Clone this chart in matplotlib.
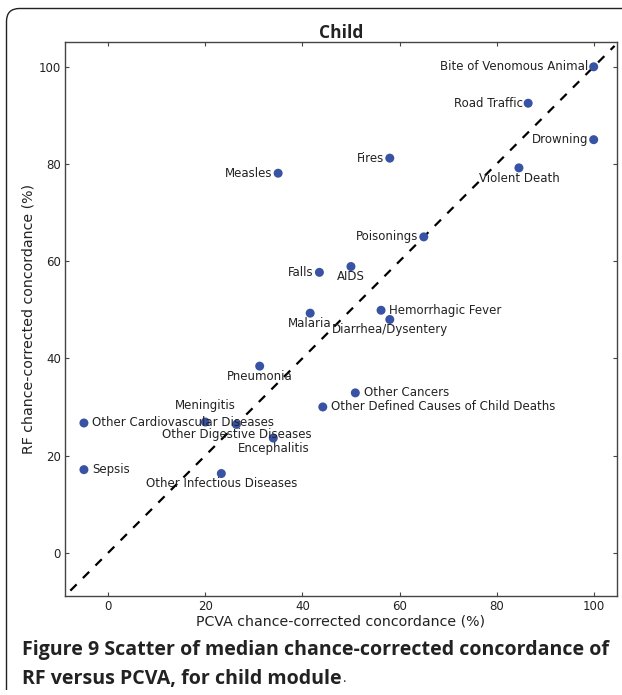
import matplotlib
matplotlib.use("Agg")
import matplotlib.pyplot as plt
from matplotlib.path import Path
from matplotlib.patches import PathPatch
from matplotlib.transforms import IdentityTransform

causes = ["Bite of Venomous Animal", "Road Traffic", "Drowning", "Fires", "Measles",
          "Violent Death", "Poisonings", "AIDS", "Falls", "Hemorrhagic Fever",
          "Malaria", "Diarrhea/Dysentery", "Pneumonia", "Other Cancers",
          "Other Defined Causes of Child Deaths", "Other Cardiovascular Diseases",
          "Meningitis", "Other Digestive Diseases", "Encephalitis", "Sepsis",
          "Other Infectious Diseases"]
pcva = [100, 86.5, 100, 58, 35, 84.6, 65, 50, 43.5, 56.2, 41.6, 58, 31.2, 50.9,
        44.2, -5, 20, 26.4, 34, -5, 23.3]
rf = [100, 92.5, 85.0, 81.2, 78.1, 79.2, 65, 58.9, 57.7, 49.9, 49.3, 48.0, 38.4,
      32.9, 30.0, 26.7, 26.9, 26.4, 23.6, 17.1, 16.3]
placement = ["left", "left", "left", "left", "left", "below", "left", "below", "left",
             "right", "below", "below", "below", "right", "right", "right", "above",
             "below", "below", "right", "below"]
ticks = [0, 20, 40, 60, 80, 100]

W, H = 622, 695
fig = plt.figure(figsize=(W / 100, H / 100), dpi=100)
ax = fig.add_axes([65 / W, 1 - 596 / H, (617 - 65) / W, (596 - 42) / H])

txtc = "#222222"
ax.plot([-7.8, 104.3], [-7.8, 104.3], color="black", ls=(0, (4, 4)), lw=1.6, zorder=1)
ax.scatter(pcva, rf, s=42, color="#3953a4", zorder=3, edgecolors="none")

offs = {"left": ((-4, 0), "right", "center"),
        "right": ((6, 0), "left", "center"),
        "below": ((0, -7.5), "center", "center"),
        "above": ((0, 12), "center", "center")}
for name, x, y, p in zip(causes, pcva, rf, placement):
    (dx, dy), ha, va = offs[p]
    ax.annotate(name, (x, y), xytext=(dx, dy), textcoords="offset points",
                ha=ha, va=va, fontsize=8.45, color=txtc, zorder=4,
                family="DejaVu Sans")

ax.set_xlim(-8.9, 104.8)
ax.set_ylim(-8.9, 105.1)
ax.set_xticks(ticks)
ax.set_yticks(ticks)
ax.tick_params(direction="in", length=3, width=0.8, top=True, right=True,
               labelsize=8.5, labelcolor=txtc, color="#444444", pad=3)
for s in ax.spines.values():
    s.set_color("#444444")
    s.set_linewidth(1.0)
ax.set_xlabel("PCVA chance-corrected concordance (%)", fontsize=10.2, color=txtc, labelpad=1)
ax.set_ylabel("RF chance-corrected concordance (%)", fontsize=10.2, color=txtc, labelpad=2)
ax.set_title("Child", fontsize=12.5, fontweight="bold", family="Open Sans", color=txtc, pad=3)

# caption
fig.text(22 / W, 1 - 650 / H, "Figure 9 Scatter of median chance-corrected concordance of",
         fontsize=14.1, fontweight="bold", family="Open Sans", color=txtc, va="center", ha="left")
t2 = fig.text(22 / W, 1 - 679 / H, "RF versus PCVA, for child module",
              fontsize=14.1, fontweight="bold", family="Open Sans", color=txtc, va="center", ha="left")
fig.canvas.draw()
bb = t2.get_window_extent()
fig.text((bb.x1 + 1) / W, 1 - 679 / H, ".", fontsize=9.5, family="Open Sans",
         color=txtc, va="center", ha="left")

# frame with rounded corner
r = 13
x0, ytop = 6.5, H - 8.5
verts = [(x0, 5), (x0, ytop - r), (x0, ytop), (x0 + r, ytop), (W + 10, ytop)]
codes = [Path.MOVETO, Path.LINETO, Path.CURVE3, Path.CURVE3, Path.LINETO]
fig.patches.append(PathPatch(Path(verts, codes), transform=IdentityTransform(),
                             fill=False, edgecolor="#222222", lw=1.0))

fig.savefig("out.png", dpi=100)
